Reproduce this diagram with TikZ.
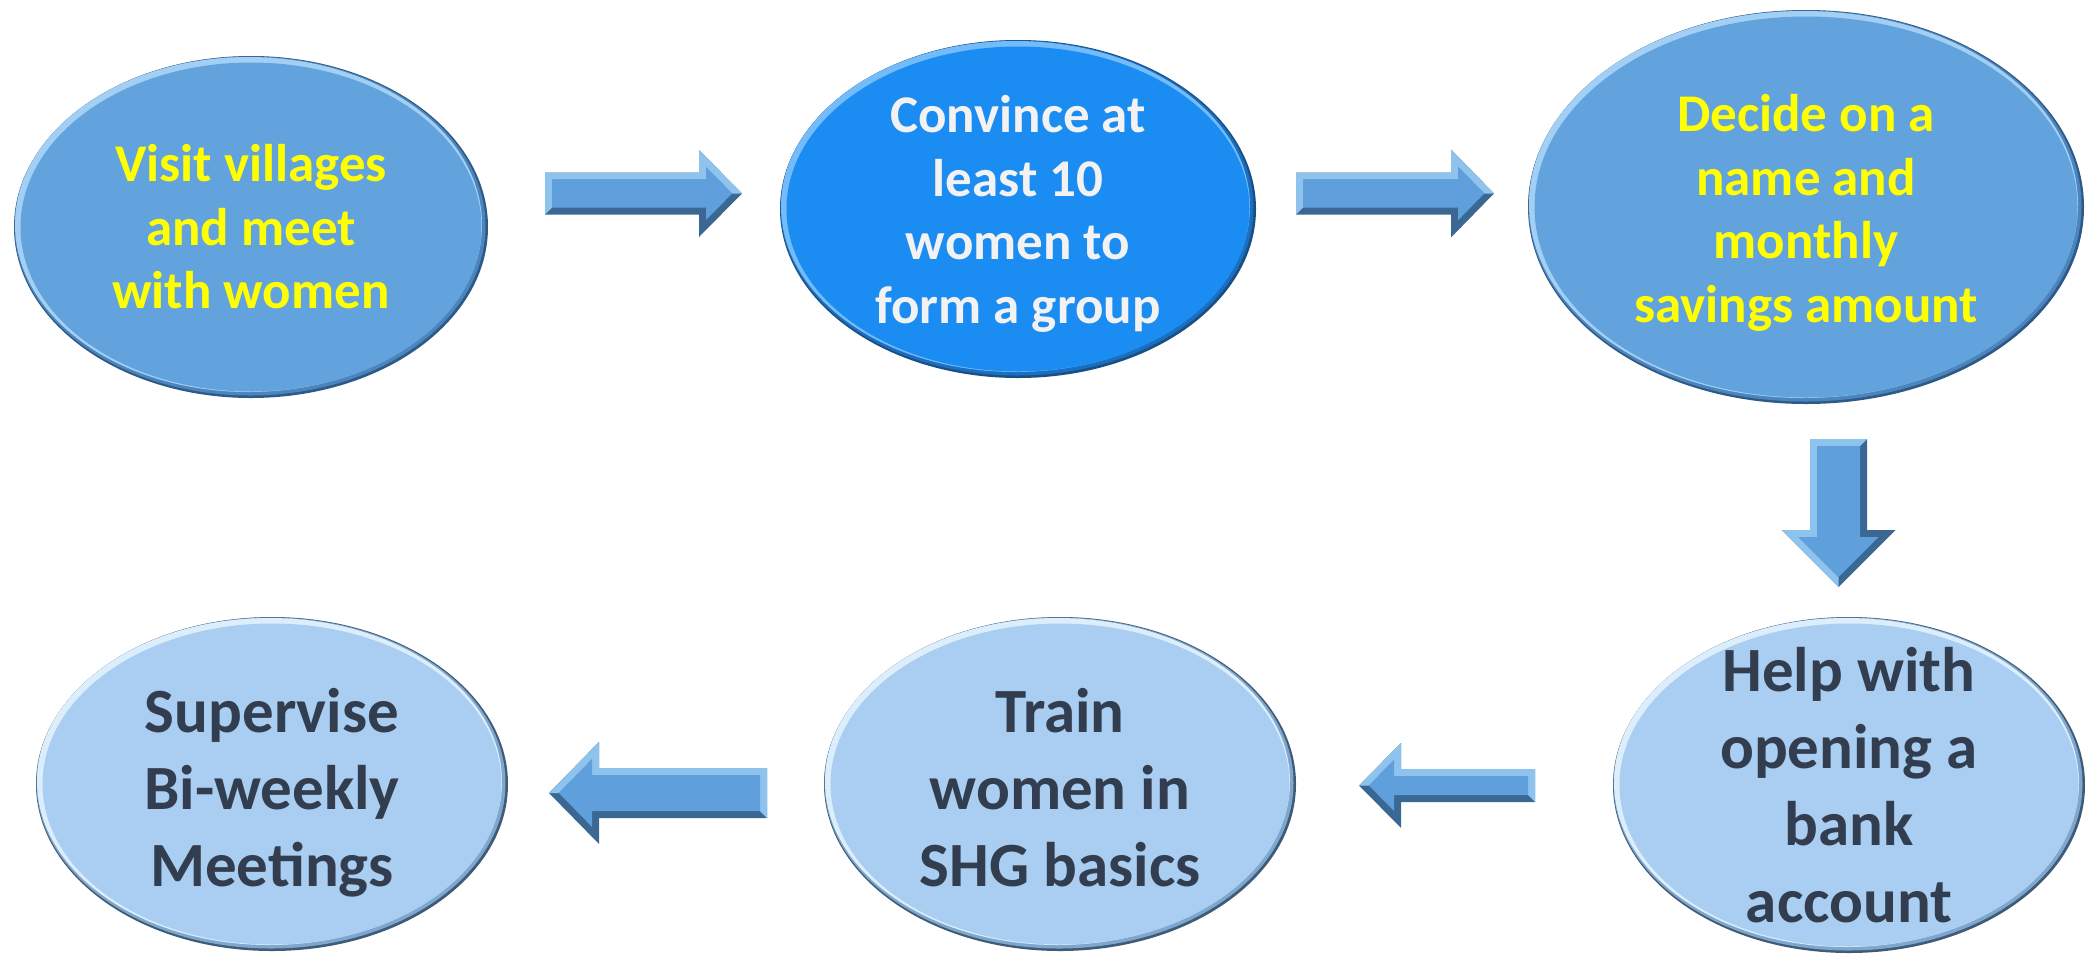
\documentclass[tikz,border=0pt]{standalone}
\usepackage{fontspec}
\setmainfont{Carlito}
\usetikzlibrary{calc,shapes.geometric}
\definecolor{midmain}{HTML}{62A3DE}
\definecolor{midlight}{HTML}{A3CFF4}
\definecolor{midmid}{HTML}{4C85BD}
\definecolor{middark}{HTML}{2E5A87}
\definecolor{brmain}{HTML}{1B8CF1}
\definecolor{brlight}{HTML}{74BCF9}
\definecolor{brmid}{HTML}{1A6FC0}
\definecolor{brdark}{HTML}{184F85}
\definecolor{ltmain}{HTML}{A9CEF1}
\definecolor{ltlight}{HTML}{DCEEFC}
\definecolor{ltmid}{HTML}{7FA6CC}
\definecolor{ltdark}{HTML}{3E5B78}
\definecolor{arrmain}{HTML}{5E9FDC}
\definecolor{arrlight}{HTML}{8EC3EE}
\definecolor{arrdark}{HTML}{3A6892}
\definecolor{txtyellow}{HTML}{FFFF00}
\definecolor{txtwhite}{HTML}{F2F2F2}
\definecolor{txtdark}{HTML}{323E4F}
\tikzset{
  x=1pt, y=-1pt,
  rimmed/.style n args={4}{ellipse, draw=none, inner sep=0pt, outer sep=0pt, fill=#1,
    path picture={
      \fill[#2] let \p1=(path picture bounding box.north east), \p2=(path picture bounding box.center) in
        ($(\p2)+(-1pt,1pt)$) ellipse ({\x1-\x2-1.5pt} and {\y1-\y2-1.5pt});
      \fill[#3] let \p1=(path picture bounding box.north east), \p2=(path picture bounding box.center) in
        ($(\p2)+(-2.5pt,2.5pt)$) ellipse ({\x1-\x2-3.5pt} and {\y1-\y2-3.5pt});
      \fill[#4] let \p1=(path picture bounding box.north east), \p2=(path picture bounding box.center) in
        (\p2) ellipse ({\x1-\x2-6.5pt} and {\y1-\y2-6.5pt});
    }},
  midell/.style={rimmed={middark}{midmid}{midlight}{midmain}},
  brell/.style={rimmed={brdark}{brmid}{brlight}{brmain}},
  ltell/.style={rimmed={ltdark}{ltmid}{ltlight}{ltmain}},
  toptxt/.style={align=center, inner sep=0pt, font=\bfseries\fontsize{53}{63.5}\selectfont},
  bottxt/.style={align=center, inner sep=0pt, font=\bfseries\fontsize{63}{77}\selectfont, text=txtdark},
  pics/barrow/.style args={#1/#2/#3/#4}{code={
    \pgfmathsetmacro\aL{#1}\pgfmathsetmacro\ak{#2}\pgfmathsetmacro\as{#3}\pgfmathsetmacro\ah{#4}
    \def\ab{7}
    \pgfmathsetmacro\ahyp{sqrt(\ak*\ak+\ah*\ah)}
    \pgfmathsetmacro\atip{\aL-\ab*\ahyp/\ah}
    \pgfmathsetmacro\aneck{\aL-\ak+\ab}
    \pgfmathsetmacro\ayin{(\atip-\aneck)*\ah/\ak}
    \fill[arrdark] (0,-\as) -- (\aL-\ak,-\as) -- (\aL-\ak,-\ah) -- (\aL,0) -- (\aL-\ak,\ah) -- (\aL-\ak,\as) -- (0,\as) -- cycle;
    \fill[arrlight] (0,\as) -- (0,-\as) -- (\aL-\ak,-\as) -- (\aL-\ak,-\ah) -- (\aL,0) -- (\atip,0) -- (\aneck,-\ayin) -- (\aneck,-\as+\ab) -- (\ab,-\as+\ab) -- (\ab,\as-\ab) -- cycle;
    \fill[arrmain] (\ab,-\as+\ab) -- (\aneck,-\as+\ab) -- (\aneck,-\ayin) -- (\atip,0) -- (\aneck,\ayin) -- (\aneck,\as-\ab) -- (\ab,\as-\ab) -- cycle;
  }}
}
\begin{document}
\begin{tikzpicture}
\useasboundingbox (0,0) rectangle (2085,954);
\fill[white] (0,0) rectangle (2085,954);
% ellipses
\node[midell, minimum width=474, minimum height=342] (e1) at (251,227) {};
\node[brell, minimum width=476, minimum height=338] (e2) at (1018,209) {};
\node[midell, minimum width=556, minimum height=394] (e3) at (1806,207) {};
\node[ltell, minimum width=472, minimum height=336] (e4) at (1849,785) {};
\node[ltell, minimum width=472, minimum height=334] (e5) at (1060,784) {};
\node[ltell, minimum width=472, minimum height=334] (e6) at (272,784) {};
% texts
\node[toptxt, text=txtyellow] (t1) at (e1) {Visit villages\\and meet\\with women};
\node[toptxt, text=txtwhite, yshift=-5pt] (t2) at (e2) {Convince at\\least 10\\women to\\form a group};
\node[toptxt, text=txtyellow, yshift=-6pt] (t3) at (e3) {Decide on a\\name and\\monthly\\savings amount};
\node[bottxt] (t4) at (e4) {Help with\\opening a\\bank\\account};
\node[bottxt, yshift=-4pt] (t5) at (e5) {Train\\women in\\SHG basics};
\node[bottxt, yshift=-9pt] (t6) at (e6) {Supervise\\Bi-weekly\\Meetings};
% block arrows (connectors)
\pic at ($(e1.center)+(294,-33.5)$) {barrow=197/43/21/43.5};
\pic at ($(e2.center)+(278,-15.5)$) {barrow=198/43/21/44};
\pic[rotate=-90, yscale=-1] at ($(e3.center)+(32.5,232)$) {barrow=148/57/28.5/57};
\pic[xscale=-1] at ($(e4.center)+(-314,0.5)$) {barrow=176/42/16.5/42.5};
\pic[xscale=-1] at ($(e5.center)+(-293,9)$) {barrow=218/50/25/51};
\end{tikzpicture}
\end{document}
